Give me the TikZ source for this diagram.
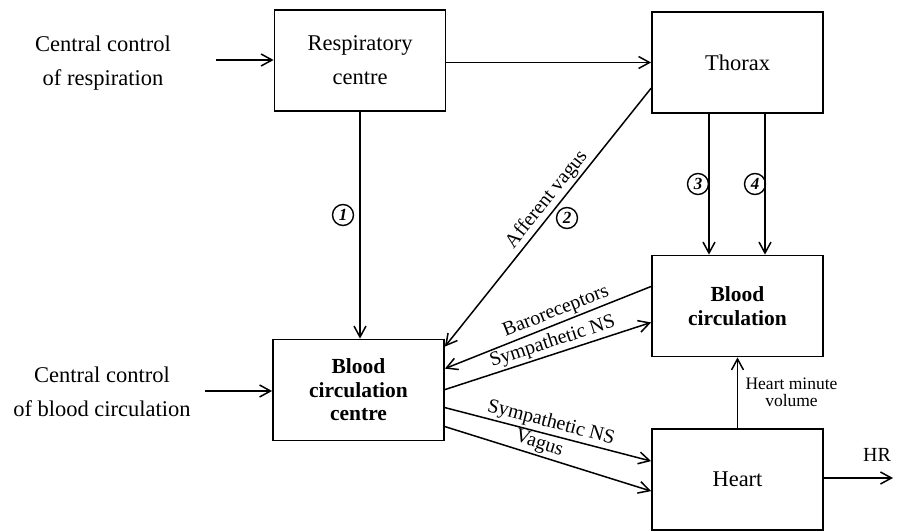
\documentclass[tikz,border=0pt]{standalone}
\usepackage{fontspec}
\setmainfont{Liberation Serif}
\usetikzlibrary{arrows.meta,calc}
\begin{document}
\begin{tikzpicture}[x=1pt,y=-1pt,
  box/.style={draw, line width=1.8pt, minimum width=171pt, minimum height=101pt, inner sep=0pt, align=center, font=\fontsize{22.5}{34}\selectfont},
  bbox/.style={box, font=\bfseries\fontsize{21.5}{23.5}\selectfont},
  arr/.style={line width=1.5pt, -{Straight Barb[length=11pt,width=12pt,line width=1.5pt]}},
  plain/.style={align=center, font=\fontsize{22.5}{34}\selectfont},
  lab/.style={font=\fontsize{20}{22}\selectfont, inner sep=2pt},
  num/.style={draw, circle, line width=1.4pt, minimum size=21pt, inner sep=0pt, font=\bfseries\itshape\fontsize{17}{17}\selectfont}
]
\useasboundingbox (0,0) rectangle (897,532);

% boxes
\node[box] (rc) at (360,60.5) {Respiratory\\centre};
\node[box] (th) at (737.5,62.5) {Thorax};
\node[bbox] (bc) at (737.5,306) {Blood\\circulation};
\node[bbox] (bcc) at (358.5,390) {Blood\\circulation\\centre};
\node[box] (ht) at (737.5,479.5) {Heart};

% outside texts
\node[plain] (ccr) at (103,63) {Central control\\of respiration};
\node[plain] (ccb) at (102,392) {Central control\\of blood circulation};
\coordinate (in1) at (216,60);
\coordinate (in2) at (205,391);
\coordinate (hrend) at (893,478);
\node[lab] (hr) at (877,455) {HR};

% arrows
\draw[arr] (in1) -- (in1 -| rc.west);
\draw[arr] (in2) -- (in2 -| bcc.west);
\draw[arr] (rc.east |- th.west) -- (th.west);
\draw[arr] (rc.south) -- (rc.south |- bcc.north);

\coordinate (avs) at ($(th.north west)!0.75!(th.south west)$);
\coordinate (ave) at ([yshift=-8]bcc.north east);
\draw[arr] (avs) -- node[lab, sloped, above, pos=0.46] {Afferent vagus} (ave);

\draw[arr] ([xshift=-28.5]th.south) -- ([xshift=-28.5]bc.north);
\draw[arr] ([xshift=27.5]th.south) -- ([xshift=27.5]bc.north);

\coordinate (b1) at ($(bc.north west)!0.31!(bc.south west)$);
\coordinate (b2) at ([yshift=-30]bcc.north east);
\draw[arr] (b1) -- node[lab, sloped, above, pos=0.44] {Baroreceptors} (b2);

\coordinate (s1) at ([yshift=-51]bcc.north east);
\coordinate (s2) at ($(bc.north west)!0.66!(bc.south west)$);
\draw[arr] (s1) -- node[lab, sloped, above, pos=0.54] {Sympathetic NS} (s2);

\coordinate (s3) at ([yshift=-69]bcc.north east);
\coordinate (s4) at ([yshift=-33]ht.north west);
\draw[arr] (s3) -- node[lab, sloped, above, pos=0.5] {Sympathetic NS} (s4);

\coordinate (v1) at ([yshift=-88]bcc.north east);
\coordinate (v2) at ([yshift=-63]ht.north west);
\draw[arr] (v1) -- node[lab, sloped, above, pos=0.44] {Vagus} (v2);

\draw[arr] (ht.north) -- node[right, align=center, font=\fontsize{17.5}{17}\selectfont, xshift=4pt] {Heart minute\\volume} (bc.south);
\draw[arr] (ht.east |- hrend) -- (hrend);

% numbered circles
\node[num] (n1) at (343,215) {1};
\node[num] (n2) at (567,218) {2};
\node[num] (n3) at (698,184) {3};
\node[num] (n4) at (755,184) {4};
\end{tikzpicture}
\end{document}
